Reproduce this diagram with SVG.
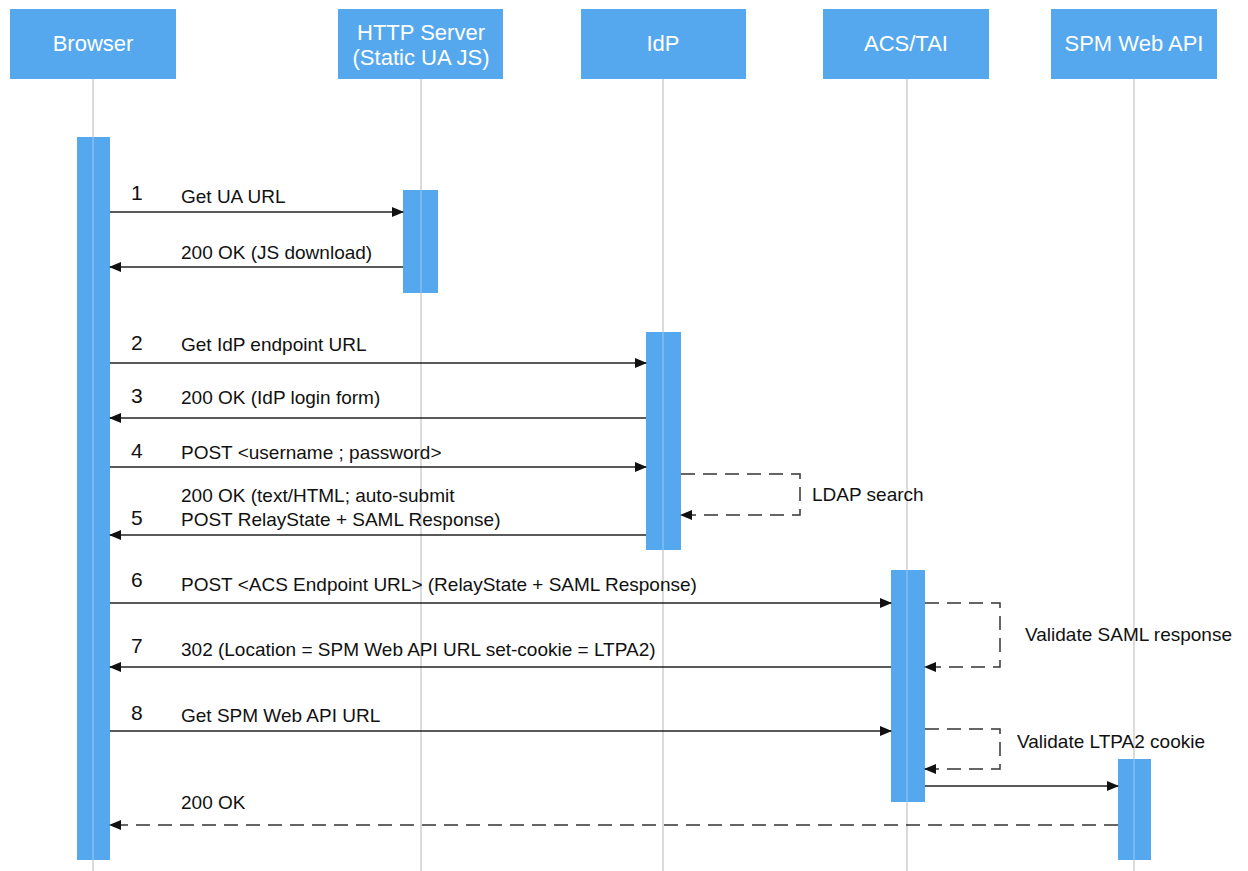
<svg xmlns="http://www.w3.org/2000/svg" width="1248" height="871" viewBox="0 0 1248 871">
<style>
.hdr{fill:#55A8EE}
.ht{font-family:"Liberation Sans",Arial,sans-serif;font-size:22px;fill:#fff;text-anchor:middle}
.life{stroke:#cfcfcf;stroke-width:1.5;fill:none}
.act{fill:#55A8EE}
.actl{stroke:#8fc4f2;stroke-width:1.2}
.msg{stroke:#222;stroke-width:1.5;fill:none}
.dash{stroke:#333;stroke-width:1.5;fill:none;stroke-dasharray:14 8}
.lbl{font-family:"Liberation Sans",Arial,sans-serif;font-size:19px;fill:#111}
.num{font-family:"Liberation Sans",Arial,sans-serif;font-size:21px;fill:#111}
</style>
<defs>
<marker id="ah" markerWidth="12" markerHeight="10" refX="11" refY="5" orient="auto" markerUnits="userSpaceOnUse">
<path d="M0,0 L12,5 L0,10 z" fill="#111"/>
</marker>
</defs>
<rect width="1248" height="871" fill="#fff"/>
<g id="lifelines">
<line class="life" x1="93" y1="79" x2="93" y2="871"/>
<line class="life" x1="421" y1="79" x2="421" y2="871"/>
<line class="life" x1="663" y1="79" x2="663" y2="871"/>
<line class="life" x1="907" y1="79" x2="907" y2="871"/>
<line class="life" x1="1134" y1="79" x2="1134" y2="871"/>
</g>
<g id="browser">
<rect class="hdr" x="10" y="9" width="166" height="70"/>
<text class="ht" x="93" y="51">Browser</text>
<rect class="act" x="77" y="137" width="33" height="723"/>
<line class="actl" x1="93" y1="137" x2="93" y2="860"/>
</g>
<g id="http">
<rect class="hdr" x="338" y="9" width="165" height="70"/>
<text class="ht" x="421" y="40">HTTP Server</text>
<text class="ht" x="421" y="65">(Static UA JS)</text>
<rect class="act" x="403" y="190" width="35" height="103"/>
<line class="actl" x1="421" y1="190" x2="421" y2="293"/>
</g>
<g id="idp">
<rect class="hdr" x="581" y="9" width="165" height="70"/>
<text class="ht" x="663" y="51">IdP</text>
<rect class="act" x="646" y="332" width="35" height="218"/>
<line class="actl" x1="663" y1="332" x2="663" y2="550"/>
</g>
<g id="acs">
<rect class="hdr" x="823" y="9" width="166" height="70"/>
<text class="ht" x="906" y="51">ACS/TAI</text>
<rect class="act" x="891" y="570" width="34" height="232"/>
<line class="actl" x1="907" y1="570" x2="907" y2="802"/>
</g>
<g id="spm">
<rect class="hdr" x="1051" y="9" width="166" height="70"/>
<text class="ht" x="1134" y="51">SPM Web API</text>
<rect class="act" x="1118" y="759" width="33" height="101"/>
<line class="actl" x1="1134" y1="759" x2="1134" y2="860"/>
</g>
<g id="connectors">
<line class="msg" x1="110" y1="212" x2="403" y2="212" marker-end="url(#ah)"/>
<line class="msg" x1="403" y1="267" x2="110" y2="267" marker-end="url(#ah)"/>
<line class="msg" x1="110" y1="363" x2="646" y2="363" marker-end="url(#ah)"/>
<line class="msg" x1="646" y1="418" x2="110" y2="418" marker-end="url(#ah)"/>
<line class="msg" x1="110" y1="467" x2="646" y2="467" marker-end="url(#ah)"/>
<polyline class="dash" points="681,474 800,474 800,515 681,515" marker-end="url(#ah)"/>
<line class="msg" x1="646" y1="535" x2="110" y2="535" marker-end="url(#ah)"/>
<line class="msg" x1="110" y1="603" x2="891" y2="603" marker-end="url(#ah)"/>
<polyline class="dash" points="925,603 1000,603 1000,667 925,667" marker-end="url(#ah)"/>
<line class="msg" x1="891" y1="667" x2="110" y2="667" marker-end="url(#ah)"/>
<line class="msg" x1="110" y1="731" x2="891" y2="731" marker-end="url(#ah)"/>
<polyline class="dash" points="925,729 1000,729 1000,769 925,769" marker-end="url(#ah)"/>
<line class="msg" x1="925" y1="786" x2="1118" y2="786" marker-end="url(#ah)"/>
<line class="dash" x1="1118" y1="825" x2="110" y2="825" marker-end="url(#ah)"/>
</g>
<g id="labels">
<text class="num" x="131" y="200">1</text>
<text class="lbl" x="181" y="203">Get UA URL</text>
<text class="lbl" x="181" y="259">200 OK (JS download)</text>
<text class="num" x="131" y="350">2</text>
<text class="lbl" x="181" y="351">Get IdP endpoint URL</text>
<text class="num" x="131" y="403">3</text>
<text class="lbl" x="181" y="404">200 OK (IdP login form)</text>
<text class="num" x="131" y="458">4</text>
<text class="lbl" x="181" y="459">POST &lt;username ; password&gt;</text>
<text class="lbl" x="812" y="501">LDAP search</text>
<text class="lbl" x="181" y="502">200 OK (text/HTML; auto-submit</text>
<text class="num" x="131" y="525">5</text>
<text class="lbl" x="181" y="526">POST RelayState + SAML Response)</text>
<text class="num" x="131" y="587">6</text>
<text class="lbl" x="181" y="591">POST &lt;ACS Endpoint URL&gt; (RelayState + SAML Response)</text>
<text class="lbl" x="1025" y="641">Validate SAML response</text>
<text class="num" x="131" y="653">7</text>
<text class="lbl" x="181" y="656">302 (Location = SPM Web API URL set-cookie = LTPA2)</text>
<text class="num" x="131" y="720">8</text>
<text class="lbl" x="181" y="722">Get SPM Web API URL</text>
<text class="lbl" x="1017" y="748">Validate LTPA2 cookie</text>
<text class="lbl" x="181" y="809">200 OK</text>
</g>
</svg>
